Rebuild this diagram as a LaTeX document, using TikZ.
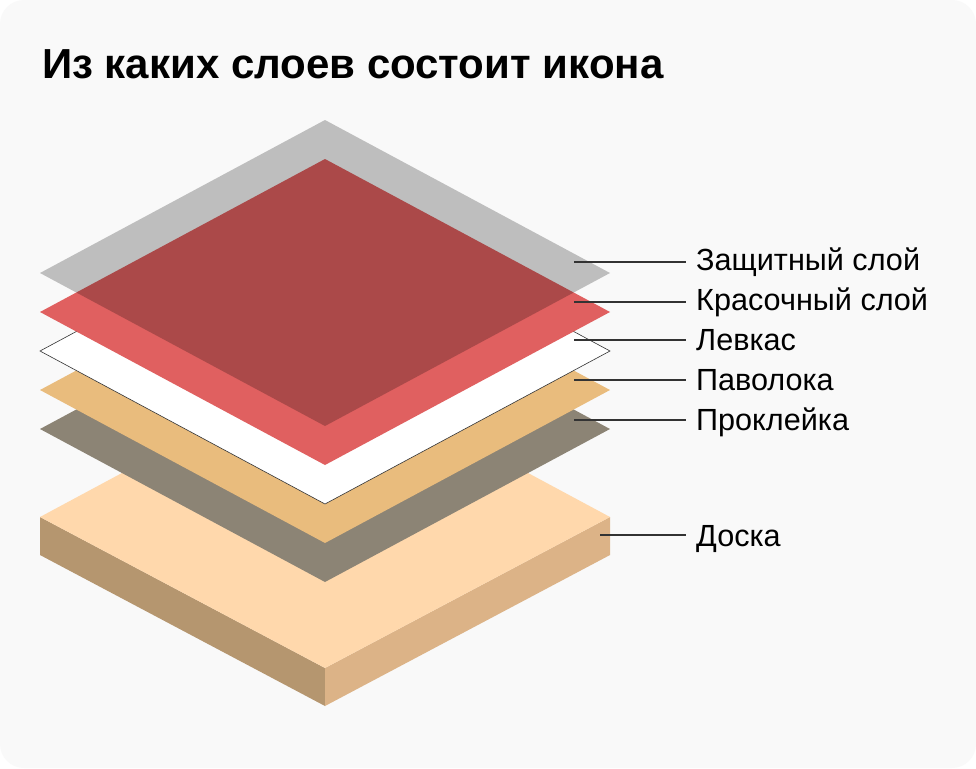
\documentclass[tikz,border=0pt]{standalone}
\usepackage{fontspec}
\setmainfont{Liberation Sans}
\definecolor{pagebg}{HTML}{F9F9F9}
\definecolor{boardtop}{HTML}{FFD8AC}
\definecolor{boardleft}{HTML}{B5966F}
\definecolor{boardright}{HTML}{DCB387}
\definecolor{sizing}{HTML}{8C8475}
\definecolor{cloth}{HTML}{E9BC7D}
\definecolor{paint}{HTML}{E06060}
\definecolor{leader}{HTML}{333333}
\tikzset{
  layerface/.style={line width=0pt},
  leaderline/.style={draw=leader,line width=1.7pt},
  layerlabel/.style={anchor=base west,inner ysep=0pt,inner xsep=10pt,font=\fontsize{30.6}{32}\selectfont,text=black},
  plate/.style n args={1}{insert path={(40,#1) -- (325,#1-153) -- (610,#1) -- (325,#1+153) -- cycle}}
}
\begin{document}
\begin{tikzpicture}[x=1pt,y=-1pt]
\useasboundingbox (0,0) rectangle (976,768);
% page
\fill[white] (0,0) rectangle (976,768);
\fill[pagebg,rounded corners=24pt] (0,0) rectangle (976,768);
\node[anchor=base west,inner sep=0pt,font=\fontsize{42}{44}\selectfont\bfseries] (title) at (42,78) {Из каких слоев состоит икона};
% board
\fill[boardleft,layerface] (40,517) -- (325,668) -- (325,706) -- (40,555) -- cycle;
\fill[boardright,layerface] (610,517) -- (325,668) -- (325,706) -- (610,555) -- cycle;
\fill[boardtop,layerface] (40,517) -- (325,364) -- (610,517) -- (325,668) -- cycle;
% thin layers, bottom to top
\fill[sizing,plate=429];
\fill[cloth,plate=390];
\filldraw[fill=white,draw=leader,line width=0.6pt,plate=351];
\fill[paint,plate=312];
\fill[black,fill opacity=0.235,plate=273];
% leader lines and labels
\coordinate (s1) at (574,262);
\coordinate (s2) at (574,302);
\coordinate (s3) at (574,340);
\coordinate (s4) at (574,380);
\coordinate (s5) at (574,420);
\coordinate (s6) at (600,535);
\node[layerlabel] (l1) at (686,270) {Защитный слой};
\node[layerlabel] (l2) at (686,310) {Красочный слой};
\node[layerlabel] (l3) at (686,350) {Левкас};
\node[layerlabel] (l4) at (686,390) {Паволока};
\node[layerlabel] (l5) at (686,430) {Проклейка};
\node[layerlabel] (l6) at (686,546) {Доска};
\foreach \i in {1,...,6} \draw[leaderline] (s\i) -- (s\i -| l\i.west);
\end{tikzpicture}
\end{document}
